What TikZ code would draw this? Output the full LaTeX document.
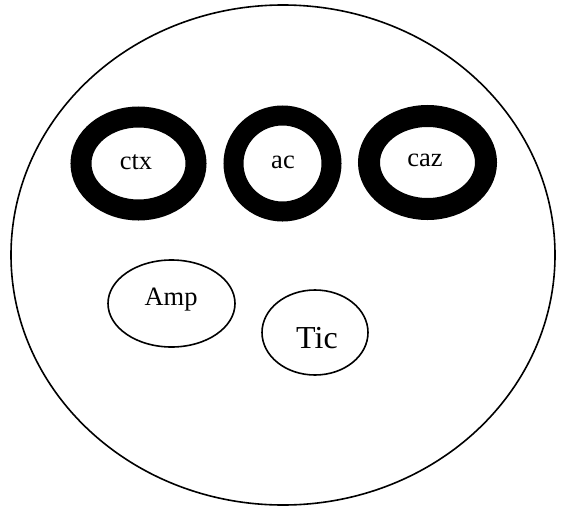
\documentclass[tikz,border=0pt]{standalone}
\usepackage{fontspec}
\setmainfont{Liberation Serif}
\usetikzlibrary{shapes.geometric}
\begin{document}
\begin{tikzpicture}[x=1pt,y=-1pt,
  ring/.style={ellipse,draw=black,inner sep=0pt},
  blob/.style={ellipse,draw=black,line width=1.6pt,inner sep=0pt},
  lbl/.style={font=\fontsize{26.5}{26.5}\selectfont,inner sep=0pt}]
\useasboundingbox (0,0) rectangle (564,511);
\fill[white] (0,0) rectangle (564,511);
% outer boundary
\node[blob,minimum width=544pt,minimum height=500pt] (outer) at (283,255) {};
% thick rings
\node[ring,line width=21pt,minimum width=115pt,minimum height=93pt] (ctx) at (138.5,163.5) {};
\node[ring,line width=20pt,minimum width=98pt,minimum height=96pt] (ac) at (282.5,163.5) {};
\node[ring,line width=22pt,minimum width=117pt,minimum height=93pt] (caz) at (427.5,162.5) {};
\node[lbl] (ctxl) at (136,162) {ctx};
\node[lbl] (acl) at (283,162) {ac};
\node[lbl] (cazl) at (425,160) {caz};
% plain ellipses
\node[blob,minimum width=127pt,minimum height=87pt] (amp) at (171.5,303.5) {};
\node[blob,minimum width=106pt,minimum height=85pt] (tic) at (315,332.5) {};
\node[lbl] (ampl) at (171,300) {Amp};
\node[lbl,font=\fontsize{32}{32}\selectfont] (ticl) at (317,338) {Tic};
\end{tikzpicture}
\end{document}
